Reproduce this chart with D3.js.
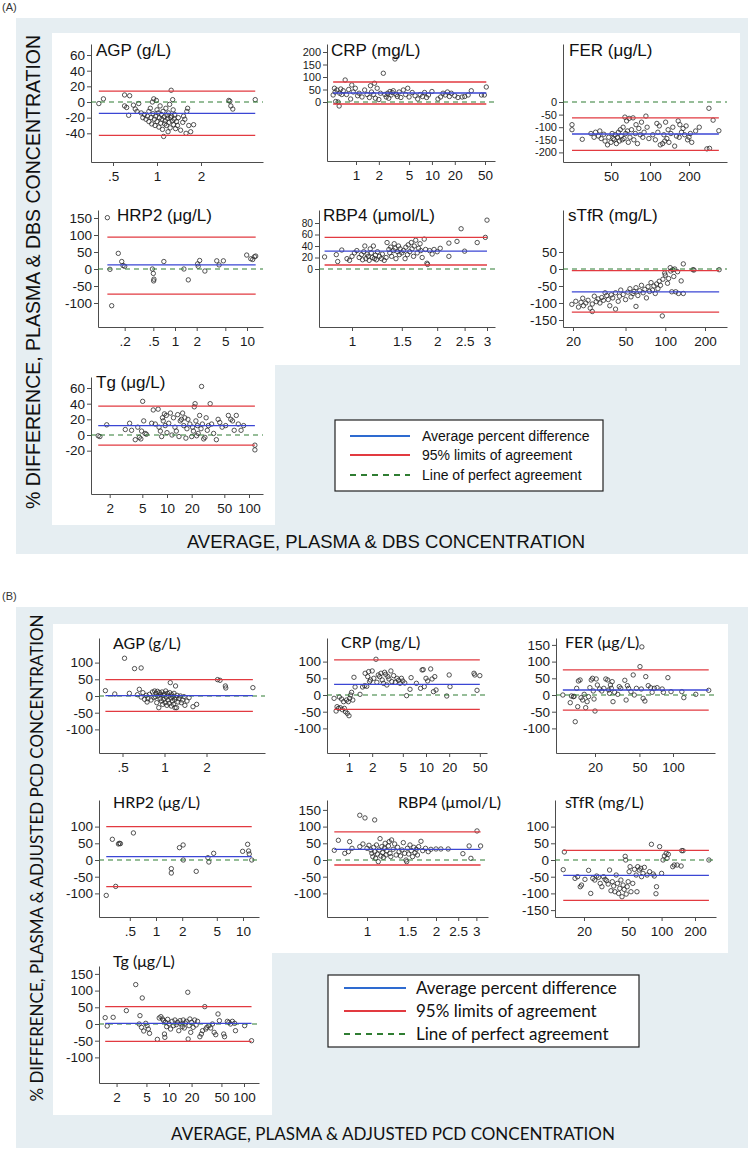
<!DOCTYPE html>
<html><head><meta charset="utf-8">
<script src="https://cdn.jsdelivr.net/npm/d3@7"></script>
<style>body{margin:0;background:#fff}svg{display:block}</style>
</head><body>
<svg id="c" width="750" height="1150"></svg>
<script>
// ================= DATA =================
const panelTitles = ["AGP (g/L)","CRP (mg/L)","FER (μg/L)","HRP2 (μg/L)","RBP4 (μmol/L)","sTfR (mg/L)","Tg (μg/L)"];
const legendLabels = ["Average percent difference","95% limits of agreement","Line of perfect agreement"];
const axisTitlesA = ["AVERAGE, PLASMA & DBS CONCENTRATION","% DIFFERENCE, PLASMA & DBS CONCENTRATION"];
const axisTitlesB = ["AVERAGE, PLASMA & ADJUSTED PCD CONCENTRATION","% DIFFERENCE, PLASMA & ADJUSTED PCD CONCENTRATION"];

// [mean % difference, upper 95% limit, lower 95% limit]
const limitsA = [[-14.5,14,-42.5],[36,80,-8],[-127,-63,-192],[12,94,-74],[31,55,7],[-67,-5,-127],[12,37,-13]];
const limitsB = [[1,49,-46],[32,105,-43],[15,75,-45],[10,100,-80],[32,84,-15],[-46,29,-121],[2,52,-52]];

const xTicksA = [[0.5,1,2],[1,2,5,10,20,50],[50,100,200],[0.2,0.5,1,2,5,10],[1,1.5,2,2.5,3],[20,50,100,200],[2,5,10,20,50,100]];
const yTicksA = [[60,40,20,0,-20,-40],[200,150,100,50,0],[0,-50,-100,-150,-200],[150,100,50,0,-50,-100],[80,60,40,20,0],[50,0,-50,-100,-150],[60,40,20,0,-20]];
const xTicksB = [[0.5,1,2],[1,2,5,10,20,50],[20,50,100],[0.5,1,2,5,10],[1,1.5,2,2.5,3],[20,50,100,200],[2,5,10,20,50,100]];
const yTicksB = [[100,50,0,-50,-100],[100,50,0,-50,-100],[150,100,50,0,-50,-100],[100,50,0,-50,-100],[150,100,50,0,-50,-100],[100,50,0,-50,-100,-150],[150,100,50,0,-50,-100]];

// points: [average concentration, % difference]
const agpA = [[0.40,-2],[0.43,4],[0.60,9],[0.65,8],[0.60,-5],[0.62,-7],[0.64,-17],[0.69,-4],[0.71,-9],[0.75,-2],[0.73,-12],[0.78,-14],[0.80,-20],[0.82,-16],[0.84,-22],[0.86,-18],[0.88,-25],[0.88,-12],[0.90,-8],[0.91,-20],[0.92,-28],[0.93,0],[0.94,-15],[0.95,4],[0.96,-22],[0.97,-30],[0.98,-18],[0.99,2],[1.00,-10],[1.00,-25],[1.02,-14],[1.03,-32],[1.04,-20],[1.05,-5],[1.06,-27],[1.07,-16],[1.08,-22],[1.09,-35],[1.10,-12],[1.11,-44],[1.12,-19],[1.13,-28],[1.14,-24],[1.15,-8],[1.16,-30],[1.17,-17],[1.18,-21],[1.19,-38],[1.20,-14],[1.21,-26],[1.22,-3],[1.23,-33],[1.24,-20],[1.25,15],[1.26,-18],[1.27,-24],[1.28,3],[1.29,-10],[1.30,-29],[1.31,-22],[1.32,-16],[1.34,-34],[1.36,-25],[1.38,-30],[1.40,-20],[1.45,-36],[1.50,-26],[1.52,-18],[1.55,-22],[1.58,-40],[1.60,-12],[1.62,-8],[1.65,-30],[1.70,-38],[1.78,-29],[3.1,2],[3.15,1],[3.2,-5],[3.3,-9],[4.7,3]];
const crpA = [[0.50,28],[0.52,55],[0.53,40],[0.54,2],[0.56,48],[0.58,0],[0.60,-16],[0.61,35],[0.63,52],[0.65,30],[0.68,45],[0.72,88],[0.75,30],[0.80,50],[0.85,12],[0.88,68],[0.92,40],[0.98,55],[1.05,25],[1.1,35],[1.2,20],[1.3,48],[1.4,30],[1.5,18],[1.55,65],[1.6,40],[1.7,30],[1.75,75],[1.8,15],[1.9,55],[2.0,10],[2.1,35],[2.29,115],[2.4,30],[2.5,20],[2.6,35],[2.7,15],[2.8,42],[2.9,28],[3.0,38],[3.1,45],[3.26,172],[3.4,30],[3.5,22],[3.7,40],[3.9,18],[4.2,48],[4.5,30],[4.8,55],[5.0,20],[5.5,38],[6.0,25],[6.5,12],[7.0,30],[7.5,22],[8.0,38],[8.5,18],[9.0,28],[10,42],[12,12],[13,20],[14,35],[15,28],[16,40],[17,22],[18,35],[20,25],[22,18],[25,20],[27,22],[30,28],[33,45],[45,28],[49,28],[52,60]];
const ferA = [[25,-90],[25,-110],[30,-148],[35,-125],[37,-140],[38,-120],[40,-135],[41,-115],[42,-145],[44,-128],[45,-155],[47,-170],[48,-140],[50,-160],[51,-125],[52,-145],[53,-150],[54,-130],[55,-165],[56,-140],[57,-120],[58,-155],[59,-110],[60,-135],[61,-150],[62,-100],[63,-145],[64,-60],[65,-125],[66,-75],[67,-115],[68,-160],[69,-65],[70,-140],[72,-110],[74,-63],[75,-150],[77,-125],[78,-90],[80,-165],[82,-105],[84,-130],[86,-80],[88,-140],[90,-120],[93,-56],[95,-100],[98,-145],[105,-130],[110,-150],[113,-85],[115,-120],[118,-95],[120,-170],[125,-165],[128,-130],[130,-155],[132,-80],[135,-145],[138,-110],[140,-160],[145,-125],[150,-100],[155,-175],[160,-135],[165,-75],[168,-140],[170,-90],[175,-120],[180,-105],[185,-130],[190,-95],[195,-150],[200,-140],[205,-125],[210,-160],[225,-115],[240,-100],[275,-186],[288,-184],[285,-25],[307,-72],[340,-114]];
const hrp2A = [[0.115,151],[0.125,-1],[0.132,-108],[0.163,46],[0.182,22],[0.19,10],[0.20,8],[0.485,0],[0.50,-13],[0.51,-30],[0.505,-35],[0.70,22],[1.33,0],[1.53,-32],[2.06,15],[2.1,8],[2.2,25],[2.6,-6],[3.8,24],[4.1,12],[4.7,24],[9.9,41],[11.3,30],[12,28],[12.7,36],[13.2,38]];
const rbp4A = [[0.80,21],[0.88,25],[0.89,13],[0.92,33],[0.96,18],[0.98,15],[1.0,22],[1.02,28],[1.04,32],[1.06,20],[1.08,25],[1.09,16],[1.1,30],[1.11,40],[1.12,18],[1.13,26],[1.14,22],[1.15,15],[1.16,35],[1.17,28],[1.18,20],[1.19,40],[1.2,18],[1.21,24],[1.22,16],[1.23,30],[1.25,22],[1.27,18],[1.28,26],[1.3,15],[1.32,20],[1.33,46],[1.35,34],[1.36,28],[1.37,38],[1.38,22],[1.4,32],[1.41,44],[1.42,36],[1.43,18],[1.45,30],[1.46,40],[1.47,25],[1.48,35],[1.5,28],[1.52,32],[1.54,18],[1.55,38],[1.57,25],[1.58,42],[1.6,30],[1.62,46],[1.63,35],[1.65,22],[1.66,40],[1.68,50],[1.7,28],[1.72,36],[1.74,44],[1.75,32],[1.77,20],[1.8,52],[1.82,34],[1.84,10],[1.85,8],[1.88,32],[1.92,26],[1.95,34],[2.0,30],[2.05,36],[2.2,45],[2.2,22],[2.35,48],[2.43,70],[2.5,31],[2.77,46],[2.96,55],[3.0,85]];
const stfrA = [[19.6,-104],[21,-95],[22,-112],[23,-98],[23.7,-86],[24,-108],[25,-100],[26,-92],[27,-115],[28,-103],[28,-125],[29,-80],[30,-96],[31,-88],[32,-100],[33,-84],[34,-92],[35,-70],[36,-78],[37,-90],[38,-108],[39,-76],[40,-85],[42,-70],[42,-118],[44,-95],[45,-80],[46,-62],[48,-75],[50,-90],[52,-68],[54,-58],[55,-82],[57,-72],[58,-66],[60,-55],[60,-110],[62,-78],[64,-64],[66,-48],[68,-70],[70,-60],[72,-85],[74,-52],[76,-66],[78,-40],[80,-62],[82,-50],[84,-72],[86,-44],[88,-58],[90,-36],[92,-48],[95,-138],[96,-30],[99,-12],[100,-18],[104,-42],[106,-28],[109,4],[110,-6],[112,-67],[114,-2],[116,-22],[118,0],[120,-67],[124,-8],[126,-72],[132,-35],[137,15],[137,-72],[162,-2],[165,-3],[256,-2]];
const tgA = [[1.45,-1],[1.52,-2],[1.84,13],[3.1,7],[3.5,15],[3.7,6],[4.1,-6],[4.4,10],[4.6,-3],[4.8,-5],[4.9,5],[5.05,43],[5.2,18],[5.4,2],[5.6,1],[6.5,15],[6.8,32],[7.2,14],[7.8,33],[8.0,10],[8.3,5],[8.6,-2],[8.8,22],[9.0,18],[9.3,27],[9.5,12],[9.8,25],[10,3],[10.5,15],[11,28],[11.5,0],[12,22],[12.5,10],[13,5],[13.5,26],[14,-2],[14.5,18],[15,20],[15.5,28],[16,12],[16.5,22],[17,-4],[17.5,8],[18,20],[19,14],[20,-2],[20.5,10],[21,5],[21.5,36],[22,40],[22.5,18],[23,-1],[23.5,12],[24,2],[25,25],[26,8],[26.4,62],[27,14],[28,-5],[29,-3],[30,22],[31,6],[32,12],[33.6,40],[35,14],[37,2],[40,-6],[42,20],[44,16],[47,10],[52,12],[56,25],[60,20],[63,18],[66,6],[70,25],[74,14],[80,6],[86,12],[118,-13],[118,-19]];

const agpB = [[0.377,16],[0.44,6],[0.517,113],[0.56,8],[0.61,82],[0.68,84],[0.64,4],[0.66,20],[0.68,-3],[0.70,10],[0.72,-10],[0.74,2],[0.75,-18],[0.76,-8],[0.78,5],[0.80,-12],[0.82,12],[0.84,-5],[0.85,15],[0.86,-2],[0.87,8],[0.88,-20],[0.89,14],[0.90,0],[0.91,-35],[0.92,10],[0.93,-8],[0.94,4],[0.95,-15],[0.96,12],[0.97,-25],[0.98,2],[0.99,-10],[1.0,6],[1.01,-20],[1.02,15],[1.03,-4],[1.04,-28],[1.05,8],[1.06,-12],[1.07,0],[1.08,-22],[1.09,10],[1.1,40],[1.11,-6],[1.12,-30],[1.13,4],[1.14,-15],[1.15,-2],[1.16,-25],[1.17,8],[1.18,-10],[1.19,-35],[1.2,30],[1.21,-5],[1.22,-35],[1.23,2],[1.25,-18],[1.27,-8],[1.3,0],[1.32,-20],[1.35,-12],[1.38,-2],[1.4,-28],[1.45,-15],[1.5,-5],[1.6,-32],[1.7,-25],[2.4,49],[2.5,47],[2.73,30],[2.75,24],[4.3,25]];
const crpB = [[0.64,-10],[0.68,-48],[0.70,-35],[0.73,-40],[0.75,-6],[0.77,-38],[0.80,-12],[0.82,-44],[0.85,-20],[0.87,-40],[0.9,-50],[0.93,-15],[0.95,-55],[0.98,-20],[1.0,-62],[1.02,-10],[1.05,0],[1.08,8],[1.12,-15],[1.16,53],[1.2,24],[1.39,2],[1.5,24],[1.6,28],[1.62,65],[1.7,26],[1.75,55],[1.8,70],[1.85,40],[1.9,45],[2.0,72],[2.1,50],[2.24,107],[2.3,38],[2.4,60],[2.5,55],[2.6,65],[2.7,45],[2.8,35],[2.9,68],[3.0,62],[3.1,30],[3.2,55],[3.3,48],[3.5,72],[3.6,40],[3.8,58],[4.0,38],[4.2,50],[4.4,44],[4.6,35],[4.8,50],[5.0,42],[5.3,36],[5.6,-2],[6.2,17],[6.4,52],[7.5,35],[8.5,20],[8.9,75],[9.2,76],[9.5,25],[10,50],[10.5,42],[11.5,78],[12,48],[12.5,10],[13,55],[13.5,15],[18.6,-3],[20,60],[20.5,25],[42,65],[43,60],[46,14],[50,58]];
const ferB = [[10.3,0],[12,-23],[12.3,-3],[12.8,-5],[13,-4],[13.3,-80],[13.7,20],[14,-35],[14.2,42],[14.7,45],[15,-8],[15.5,-15],[16,2],[16.5,-38],[17,-20],[17.5,-5],[18,22],[18.5,45],[19,50],[19.3,12],[19.6,-12],[20,-48],[20.5,48],[21,30],[22,18],[23,12],[24,20],[25,48],[26,45],[26.5,15],[27,5],[27.5,30],[28,20],[28.5,40],[29,-20],[30,8],[32,2],[33,25],[34,20],[37,44],[38,-15],[39,28],[40,20],[42,10],[44,60],[45,0],[47,20],[50.6,85],[52,18],[54,-10],[56,-18],[57,55],[60,28],[63,22],[65,8],[68,20],[72,22],[80,18],[82,8],[90,52],[96,10],[120,10],[125,-8],[160,2],[209,14],[52.6,144]];
const hrp2B = [[0.268,-106],[0.315,62],[0.344,-79],[0.37,48],[0.38,50],[0.39,49],[0.55,81],[1.5,-26],[1.5,-39],[1.86,37],[2.05,45],[2.06,0],[2.9,-34],[3.95,7],[4.05,-6],[4.6,20],[9.9,26],[11.3,47],[11.6,27],[11.8,18],[12.6,0]];
const rbp4B = [[0.72,29],[0.75,59],[0.80,20],[0.83,25],[0.84,55],[0.86,35],[0.93,134],[0.98,126],[1.08,120],[0.93,40],[0.96,48],[1.0,35],[1.02,44],[1.04,30],[1.05,20],[1.06,10],[1.07,38],[1.08,25],[1.09,5],[1.1,45],[1.11,18],[1.12,-5],[1.13,30],[1.14,64],[1.15,12],[1.16,40],[1.17,22],[1.18,8],[1.19,35],[1.2,50],[1.21,15],[1.22,28],[1.24,42],[1.25,55],[1.26,20],[1.27,10],[1.28,60],[1.3,32],[1.32,48],[1.34,15],[1.36,38],[1.38,25],[1.4,12],[1.42,30],[1.44,52],[1.46,20],[1.48,0],[1.49,-5],[1.5,35],[1.52,18],[1.54,45],[1.56,28],[1.58,10],[1.6,38],[1.62,22],[1.64,32],[1.66,15],[1.68,40],[1.72,56],[1.75,28],[1.8,35],[1.85,25],[1.9,32],[2.0,33],[2.1,33],[2.26,33],[2.62,19],[2.79,42],[2.84,5],[3.02,87],[3.13,42]];
const stfrB = [[13,-29],[13.3,24],[16.6,-55],[17.5,-50],[18.5,-80],[19,-75],[20.4,-58],[22,-31],[23,-100],[24,-55],[25,-60],[26,-48],[27,-52],[28,-70],[29,-80],[30,-50],[31,-58],[32,-62],[33,-72],[34,-30],[35,-92],[36,-65],[37,-78],[38,-95],[39,-45],[40,-70],[41,-100],[42,-85],[43,-60],[44,-110],[45,-75],[46,-88],[47,11],[47.5,0],[48,-102],[49,-80],[50,-65],[51,-35],[52,-20],[53,-95],[55,-70],[57,-28],[59,-45],[60,-95],[61,-20],[63,-30],[65,-25],[66,-50],[68,-40],[70,-22],[74,-45],[78,-35],[81,47],[84,-42],[86,-48],[89,-101],[90,-80],[96,40],[100,-40],[103,0],[106,12],[110,20],[112,5],[115,17],[126,-20],[130,-15],[138,-15],[150,-18],[152,28],[156,28],[267,0]];
const tgB = [[1.41,19],[1.5,-6],[1.8,20],[2.7,40],[3.6,118],[4.1,25],[4.4,78],[4.0,0],[4.3,-10],[4.6,-21],[4.9,2],[5.1,-5],[5.3,-15],[5.5,-28],[7.0,-46],[7.4,18],[7.8,22],[8.2,15],[8.5,10],[8.7,-30],[8.8,-40],[9.0,5],[9.3,-8],[9.6,14],[10,0],[10.5,-15],[11,8],[11.5,-5],[12,12],[12.5,-2],[13,5],[13.5,-20],[14,10],[14.5,0],[15,-8],[15.5,12],[16,-12],[16.5,3],[17,8],[17.8,95],[18,-45],[18.5,-5],[19,15],[19.5,-25],[20,5],[21,-10],[22,12],[23,-3],[24,8],[25.8,-38],[27,-30],[28,-20],[30,52],[31,-15],[32,-10],[34,-5],[36,-12],[38,0],[40,-25],[42,-32],[45,30],[47,10],[53.6,-30],[55,-38],[60,8],[63,5],[66,0],[70,8],[75,2],[77,-20],[102,-5],[126,-50]];

const pointsA = [agpA, crpA, ferA, hrp2A, rbp4A, stfrA, tgA];
const pointsB = [agpB, crpB, ferB, hrp2B, rbp4B, stfrB, tgB];

// ================= LAYOUT =================
// l,r: x-axis extent; t,b: y-axis extent; y0: pixel of 0; k: px per unit; xa,xb: [tick value, pixel]; tx,ty: title; yfs: y tick font size
const layoutA = [
  {l:91,r:263,t:44,b:162,y0:102,k:0.783,xa:[0.5,113],xb:[2,201],tx:96,ty:56,yfs:13.5},
  {l:327,r:495,t:44,b:161,y0:102,k:0.25,xa:[1,356],xb:[50,485],tx:331,ty:56,yfs:11},
  {l:563,r:727,t:44,b:162,y0:102,k:0.252,xa:[50,611],xb:[200,689],tx:569,ty:56,yfs:11},
  {l:98,r:263,t:210,b:327,y0:269,k:0.34,xa:[1,175],xb:[10,247],tx:117,ty:221,yfs:13.5},
  {l:319,r:495,t:210,b:327,y0:269,k:0.575,xa:[1,352],xb:[3,487],tx:323,ty:221,yfs:10.2},
  {l:563,r:727,t:210,b:327,y0:269,k:0.34,xa:[20,573],xb:[200,705],tx:568,ty:221,yfs:13.5},
  {l:91,r:263,t:377,b:494,y0:435,k:0.783,xa:[1,85],xb:[100,249],tx:96,ty:388,yfs:13.5}
];
const layoutB = [
  {l:99,r:265,t:638,b:753,y0:696,k:0.334,xa:[1,164.5],xb:[2,206.5],tx:113,ty:649,yfs:13.5},
  {l:327,r:487,t:638,b:753,y0:695,k:0.334,xa:[1,349],xb:[10,426],tx:341,ty:648,yfs:13.5},
  {l:556,r:715,t:638,b:753,y0:695,k:0.334,xa:[20,595],xb:[100,673],tx:565,ty:648,yfs:13.5},
  {l:99,r:259,t:800,b:917,y0:860,k:0.334,xa:[1,156],xb:[10,243],tx:113,ty:808,yfs:13.5},
  {l:327,r:488,t:800,b:917,y0:860,k:0.334,xa:[1,367],xb:[2,436],tx:398,ty:808,yfs:13.5},
  {l:555,r:716,t:800,b:917,y0:860,k:0.334,xa:[20,584],xb:[200,695],tx:565,ty:808,yfs:13.5},
  {l:99,r:259,t:966,b:1083,y0:1024,k:0.334,xa:[1,94],xb:[100,244],tx:113,ty:967,yfs:13.5}
];

const ARIAL = "'Liberation Sans', Arial, Helvetica, sans-serif";
const CAL = "Lato, 'Open Sans', sans-serif";
const AX = "#4d4d4d", BLUE = "#3b46d4", RED = "#e23a40", GREEN = "#2f7d32", BG = "#e6eef2";
const svg = d3.select("#c");

// ---- backgrounds ----
svg.append("text").attr("x",2).attr("y",11).attr("font-family",ARIAL).attr("font-size",11).attr("fill","#333").text("(A)");
svg.append("rect").attr("x",16).attr("y",18).attr("width",732).attr("height",536).attr("fill",BG);
svg.append("path").attr("d","M52,33H740V365H275V525H52Z").attr("fill","#fff");
svg.append("text").attr("x",2).attr("y",600).attr("font-family",ARIAL).attr("font-size",11).attr("fill","#333").text("(B)");
svg.append("rect").attr("x",16).attr("y",607).attr("width",732).attr("height",541).attr("fill",BG);
svg.append("path").attr("d","M53,624H728V953H272V1115H53Z").attr("fill","#fff");

const fmt = d => String(d).replace(/^0\./, ".");

function drawPanel(L, pts, lim, xt, yt, title, titleFont, titleSize) {
  const g = svg.append("g");
  const y = d3.scaleLinear().domain([(L.y0 - L.b) / L.k, (L.y0 - L.t) / L.k]).range([L.b, L.t]);
  const s0 = d3.scaleLog().domain([L.xa[0], L.xb[0]]).range([L.xa[1], L.xb[1]]);
  const x = d3.scaleLog().domain([s0.invert(L.l), s0.invert(L.r)]).range([L.l, L.r]);
  const ay = g.append("g").attr("transform", `translate(${L.l},0)`)
    .call(d3.axisLeft(y).tickValues(yt).tickSize(4).tickSizeOuter(0).tickPadding(2).tickFormat(fmt));
  const ax = g.append("g").attr("transform", `translate(0,${L.b})`)
    .call(d3.axisBottom(x).tickValues(xt).tickSize(4).tickSizeOuter(0).tickPadding(5).tickFormat(fmt));
  [ay, ax].forEach(a => {
    a.selectAll("path,line").attr("stroke", AX).attr("stroke-width", 1);
    a.selectAll("text").attr("font-family", ARIAL).attr("font-size", 13.5).attr("fill", "#1a1a1a");
  });
  ay.selectAll("text").attr("font-size", L.yfs);
  // points
  g.append("g").selectAll("circle").data(pts).join("circle")
    .attr("cx", d => x(d[0])).attr("cy", d => y(d[1])).attr("r", 2.2)
    .attr("fill", "none").attr("stroke", "#2a2a2a").attr("stroke-width", 0.8);
  // reference lines
  const ext = d3.extent(pts, d => d[0]);
  const line = d3.line().x(d => x(d[0])).y(d => y(d[1]));
  g.append("path").attr("d", line([[x.domain()[0], 0], [x.domain()[1], 0]]))
    .attr("stroke", GREEN).attr("stroke-width", 1.2).attr("stroke-dasharray", "5,4").attr("fill", "none");
  [[lim[1], RED], [lim[2], RED], [lim[0], BLUE]].forEach(([v, c]) => {
    g.append("path").attr("d", line([[ext[0], v], [ext[1], v]]))
      .attr("stroke", c).attr("stroke-width", 1.3).attr("fill", "none");
  });
  g.append("text").attr("x", L.tx).attr("y", L.ty).attr("font-family", titleFont)
    .attr("font-size", titleSize).attr("fill", "#111").text(title);
}

layoutA.forEach((L, i) => drawPanel(L, pointsA[i], limitsA[i], xTicksA[i], yTicksA[i], panelTitles[i], ARIAL, 17));
layoutB.forEach((L, i) => drawPanel(L, pointsB[i], limitsB[i], xTicksB[i], yTicksB[i], panelTitles[i], CAL, 16));

// axis titles
svg.append("text").attr("x", 386).attr("y", 548).attr("text-anchor", "middle").attr("font-family", ARIAL)
  .attr("font-size", 18.5).attr("fill", "#111").text(axisTitlesA[0]);
svg.append("text").attr("transform", "translate(40,272) rotate(-90)").attr("text-anchor", "middle")
  .attr("font-family", ARIAL).attr("font-size", 19.5).attr("fill", "#111").text(axisTitlesA[1]);
svg.append("text").attr("x", 393).attr("y", 1140).attr("text-anchor", "middle").attr("font-family", CAL)
  .attr("font-size", 17).attr("fill", "#111").text(axisTitlesB[0]);
svg.append("text").attr("transform", "translate(43,858) rotate(-90)").attr("text-anchor", "middle")
  .attr("font-family", CAL).attr("font-size", 17).attr("fill", "#111").text(axisTitlesB[1]);

// legends
function legend(bx, by, bw, bh, rows, lx1, lx2, tx, font, fs, blue) {
  const g = svg.append("g");
  g.append("rect").attr("x", bx).attr("y", by).attr("width", bw).attr("height", bh)
    .attr("fill", "#fff").attr("stroke", "#222").attr("stroke-width", 1.2);
  const cols = [blue, RED, GREEN];
  legendLabels.forEach((lab, i) => {
    g.append("line").attr("x1", lx1).attr("x2", lx2).attr("y1", rows[i]).attr("y2", rows[i])
      .attr("stroke", cols[i]).attr("stroke-width", 2).attr("stroke-dasharray", i === 2 ? "6,5" : null);
    g.append("text").attr("x", tx).attr("y", rows[i]).attr("dy", "0.35em").attr("font-family", font)
      .attr("font-size", fs).attr("fill", "#111").text(lab);
  });
}
legend(335, 420, 268, 71, [436, 455, 475], 350, 410, 422, ARIAL, 14, "#2e6bd0");
legend(328, 975, 311, 72, [988, 1011, 1034], 344, 406, 416, CAL, 17, "#2e6bd0");
</script>
</body></html>
